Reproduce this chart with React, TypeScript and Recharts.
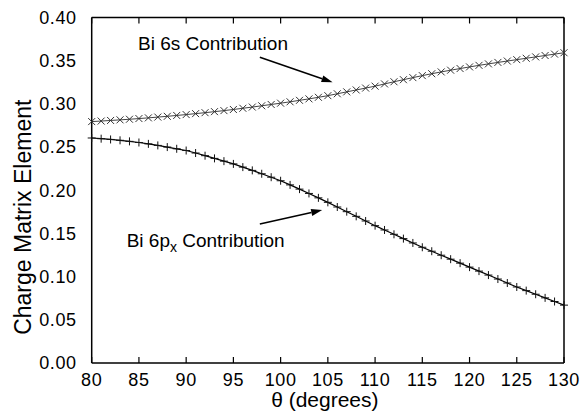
import React from "react"
import {
  LineChart,
  Line,
  XAxis,
  YAxis,
  ReferenceLine,
  ReferenceDot,
  Label,
} from "recharts"

// θ grid (degrees), one point per degree
const theta = [
  80, 81, 82, 83, 84, 85, 86, 87, 88, 89, 90, 91, 92, 93, 94, 95, 96, 97, 98, 99,
  100, 101, 102, 103, 104, 105, 106, 107, 108, 109, 110, 111, 112, 113, 114, 115,
  116, 117, 118, 119, 120, 121, 122, 123, 124, 125, 126, 127, 128, 129, 130,
]

// Bi 6s contribution
const bi6s = [
  0.2795, 0.2801, 0.2808, 0.2815, 0.2822, 0.283, 0.2838, 0.2847, 0.2856, 0.2866,
  0.2876, 0.2887, 0.2898, 0.291, 0.2922, 0.2935, 0.2949, 0.2963, 0.2978, 0.2993,
  0.3008, 0.3024, 0.3041, 0.3058, 0.3076, 0.3095, 0.3117, 0.3139, 0.3161, 0.3183,
  0.3205, 0.3231, 0.3256, 0.328, 0.3304, 0.3327, 0.3349, 0.337, 0.339, 0.3409,
  0.3428, 0.3446, 0.3463, 0.348, 0.3496, 0.3512, 0.3528, 0.3544, 0.356, 0.3576,
  0.3592,
]

// Bi 6px contribution
const bi6px = [
  0.2605, 0.2597, 0.2588, 0.2578, 0.2566, 0.2553, 0.2537, 0.2519, 0.25, 0.248,
  0.246, 0.2431, 0.24, 0.2369, 0.2337, 0.2305, 0.2268, 0.223, 0.2191, 0.2151,
  0.211, 0.2062, 0.2013, 0.1963, 0.1912, 0.186, 0.1806, 0.1752, 0.1698, 0.1644,
  0.159, 0.154, 0.149, 0.144, 0.139, 0.134, 0.1294, 0.1248, 0.1202, 0.1156,
  0.111, 0.1064, 0.1018, 0.0972, 0.0926, 0.088, 0.0838, 0.0796, 0.0754, 0.0712,
  0.067,
]

const xTicks = [80, 85, 90, 95, 100, 105, 110, 115, 120, 125, 130]
const yTicks = [0, 0.05, 0.1, 0.15, 0.2, 0.25, 0.3, 0.35, 0.4]

const data = theta.map((t, i) => ({ theta: t, s: bi6s[i], px: bi6px[i] }))

const FONT = "'Liberation Sans', Arial, Helvetica, sans-serif"

function CrossDot(props: any) {
  const { cx, cy, index } = props
  if (cx == null || cy == null) return <g key={index} />
  const r = 3.5
  return (
    <g key={index} stroke="#333" strokeWidth={1}>
      <line x1={cx - r} y1={cy - r} x2={cx + r} y2={cy + r} />
      <line x1={cx - r} y1={cy + r} x2={cx + r} y2={cy - r} />
    </g>
  )
}

function PlusDot(props: any) {
  const { cx, cy, index } = props
  if (cx == null || cy == null) return <g key={index} />
  const r = 4
  return (
    <g key={index} stroke="#111" strokeWidth={1}>
      <line x1={cx - r} y1={cy} x2={cx + r} y2={cy} />
      <line x1={cx} y1={cy - r} x2={cx} y2={cy + r} />
    </g>
  )
}

function Arrow(props: any) {
  const { x1, y1, x2, y2 } = props
  const ang = Math.atan2(y2 - y1, x2 - x1)
  const len = 11
  const w = 3.5
  const bx = x2 - len * Math.cos(ang)
  const by = y2 - len * Math.sin(ang)
  const px = -Math.sin(ang) * w
  const py = Math.cos(ang) * w
  return (
    <g>
      <line x1={x1} y1={y1} x2={bx} y2={by} stroke="#000" strokeWidth={1.5} />
      <polygon
        points={`${x2},${y2} ${bx + px},${by + py} ${bx - px},${by - py}`}
        fill="#000"
      />
    </g>
  )
}

function SText(props: any) {
  const { cx, cy } = props
  return (
    <text x={cx} y={cy} fontSize={19} fontFamily={FONT} fill="#000">
      Bi 6s Contribution
    </text>
  )
}

function PText(props: any) {
  const { cx, cy } = props
  return (
    <text x={cx} y={cy} fontSize={19} fontFamily={FONT} fill="#000">
      Bi 6p
      <tspan fontSize={14} dy={5}>x</tspan>
      <tspan dy={-5}> Contribution</tspan>
    </text>
  )
}

const tickStyle = { fill: "#000", fontSize: 18, fontFamily: FONT, letterSpacing: 0.6 }
const frame = { stroke: "#000", strokeWidth: 1.5 }
const tickLn = { stroke: "#000", strokeWidth: 1.2 }

export default function App() {
  return (
    <div
      style={{
        position: "absolute",
        left: 0,
        top: 0,
        width: 580,
        height: 412,
        background: "#fff",
      }}
    >
      <LineChart
        width={580}
        height={412}
        data={data}
        margin={{ top: 17.5, right: 16, left: 0, bottom: 0 }}
      >
        {/* labelled axes */}
        <XAxis
          dataKey="theta"
          type="number"
          domain={[80, 130]}
          ticks={xTicks}
          height={49}
          tick={tickStyle}
          tickLine={false}
          tickMargin={4}
          axisLine={frame}
        >
          <Label
            content={(p: any) => {
              const vb = p.viewBox
              return (
                <text
                  x={vb.x + vb.width / 2 - 3}
                  y={vb.y + 44}
                  textAnchor="middle"
                  fontSize={21}
                  fontFamily={FONT}
                  fill="#000"
                >
                  θ (degrees)
                </text>
              )
            }}
          />
        </XAxis>
        <YAxis
          type="number"
          domain={[0, 0.4]}
          ticks={yTicks}
          width={91.7}
          tick={tickStyle}
          tickFormatter={(v: number) => v.toFixed(2)}
          tickLine={false}
          tickMargin={9}
          axisLine={frame}
        >
          <Label
            content={(p: any) => {
              const vb = p.viewBox
              const cx = vb.x + 23
              const cy = vb.y + vb.height / 2 + 27
              return (
                <text
                  x={cx}
                  y={cy}
                  transform={`rotate(-90 ${cx} ${cy})`}
                  textAnchor="middle"
                  dominantBaseline="central"
                  fontSize={23}
                  fontFamily={FONT}
                  fill="#000"
                >
                  Charge Matrix Element
                </text>
              )
            }}
          />
        </YAxis>

        {/* inward tick marks on all four sides */}
        <XAxis
          xAxisId="b"
          orientation="bottom"
          mirror
          dataKey="theta"
          type="number"
          domain={[80, 130]}
          ticks={xTicks}
          tickFormatter={() => ""}
          tickSize={6}
          axisLine={false}
          tickLine={tickLn}
        />
        <XAxis
          xAxisId="t"
          orientation="top"
          mirror
          dataKey="theta"
          type="number"
          domain={[80, 130]}
          ticks={xTicks}
          tickFormatter={() => ""}
          tickSize={6}
          axisLine={frame}
          tickLine={tickLn}
        />
        <YAxis
          yAxisId="l"
          orientation="left"
          mirror
          type="number"
          domain={[0, 0.4]}
          ticks={yTicks}
          tickFormatter={() => ""}
          tickSize={6}
          axisLine={false}
          tickLine={tickLn}
        />
        <YAxis
          yAxisId="r"
          orientation="right"
          mirror
          type="number"
          domain={[0, 0.4]}
          ticks={yTicks}
          tickFormatter={() => ""}
          tickSize={6}
          axisLine={frame}
          tickLine={tickLn}
        />

        <Line
          dataKey="s"
          stroke="#444"
          strokeWidth={1}
          dot={CrossDot}
          activeDot={false}
          isAnimationActive={false}
        />
        <Line
          dataKey="px"
          stroke="#000"
          strokeWidth={1.2}
          dot={PlusDot}
          activeDot={false}
          isAnimationActive={false}
        />
        <ReferenceLine
          segment={[{ x: 97.8, y: 0.354 }, { x: 105.5, y: 0.325 }]}
          shape={Arrow}
        />
        <ReferenceLine
          segment={[{ x: 97.8, y: 0.161 }, { x: 104.4, y: 0.177 }]}
          shape={Arrow}
        />
        <ReferenceDot x={84.9} y={0.3618} shape={SText} />
        <ReferenceDot x={83.7} y={0.1345} shape={PText} />
      </LineChart>
    </div>
  )
}
